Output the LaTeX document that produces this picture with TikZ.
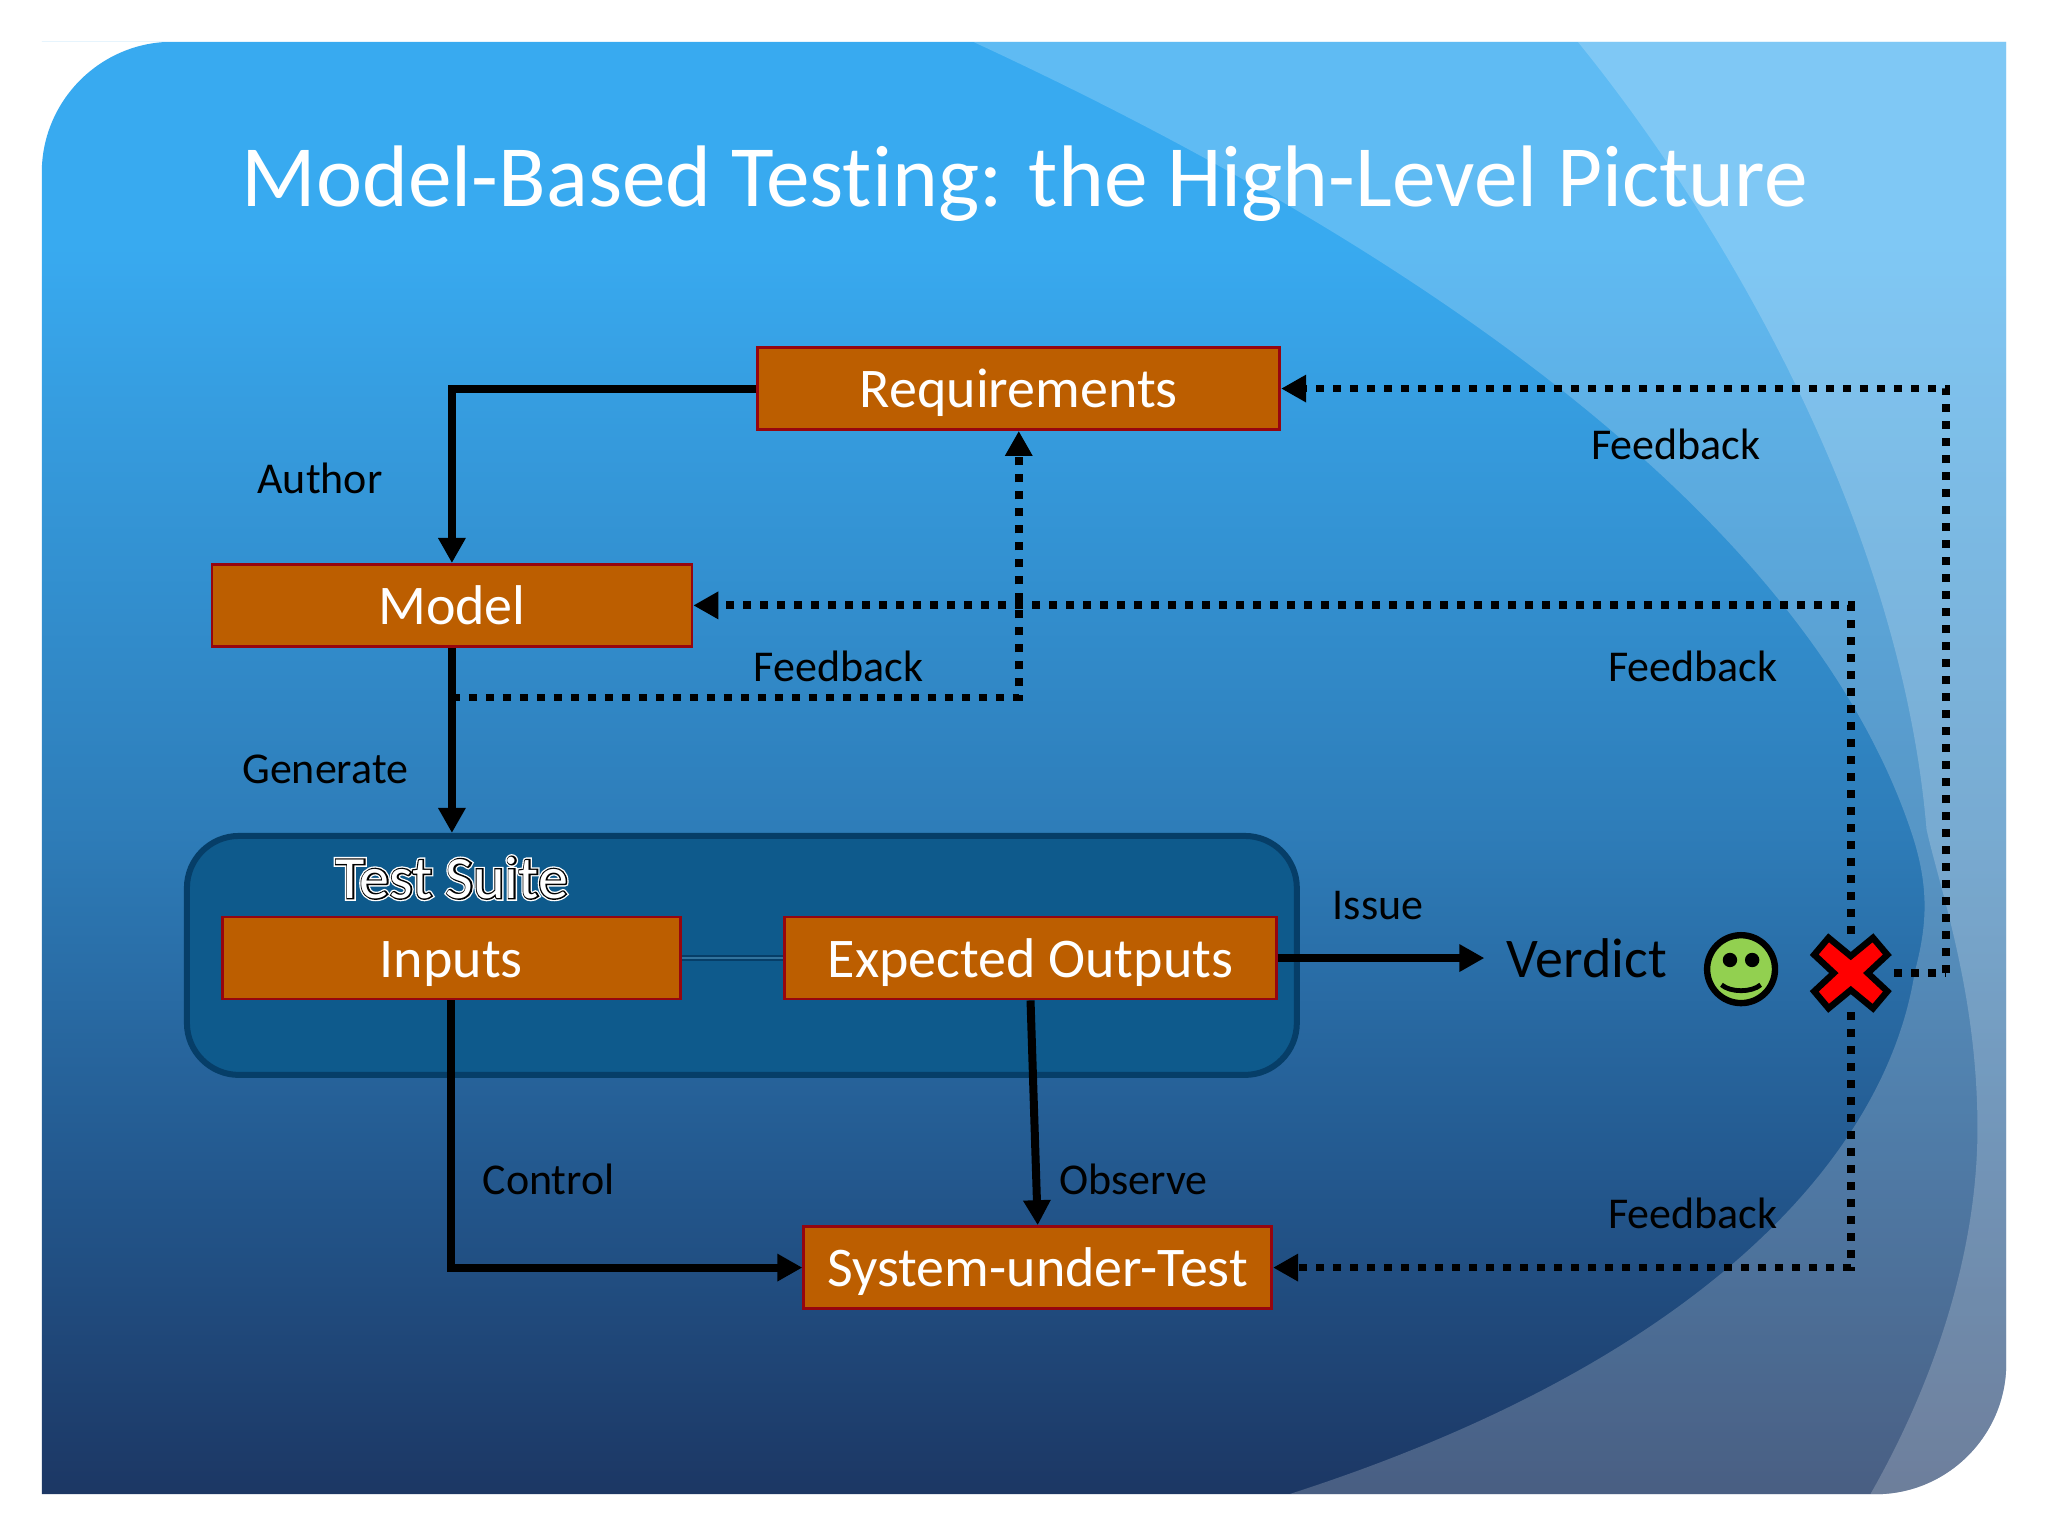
\documentclass[tikz,border=0pt]{standalone}
\usepackage{fontspec}
\setmainfont{Carlito}[Ligatures=NoCommon]
\newfontfamily\suiteouter{Carlito}[FakeBold=9]
\newfontfamily\suitemid{Carlito}[FakeBold=4.5]
\usetikzlibrary{arrows.meta}
\definecolor{boxfill}{RGB}{188,94,0}
\definecolor{boxline}{RGB}{150,5,15}
\definecolor{suitefill}{RGB}{14,90,140}
\definecolor{suiteline}{RGB}{6,62,104}
\definecolor{smiley}{RGB}{146,208,80}
\pgfdeclareverticalshading{slide}{100bp}{
	color(0bp)=(rgb,255:red,28;green,55;blue,100);
	color(25bp)=(rgb,255:red,28;green,55;blue,100);
	color(36bp)=(rgb,255:red,35;green,88;blue,142);
	color(48bp)=(rgb,255:red,46;green,125;blue,185);
	color(63bp)=(rgb,255:red,54;green,158;blue,225);
	color(68bp)=(rgb,255:red,56;green,170;blue,240);
	color(100bp)=(rgb,255:red,56;green,170;blue,240)}
\newcommand{\slideoutline}{(32,32) -- (1536,32) -- (1536,1044) .. controls (1536,1099) and (1491,1144) .. (1436,1144) -- (32,1144) -- (32,132) .. controls (32,77) and (77,32) .. (132,32) -- cycle}
\newcommand{\outlined}[1]{\rlap{\color{white}\suiteouter #1}\rlap{\color{black}\suitemid #1}\color{white}#1}
\tikzset{
	box/.style={draw=boxline,fill=boxfill,line width=1.4pt,text=white,font=\fontsize{28}{30}\selectfont,minimum height=41pt,inner sep=0pt,text height=19.3pt,text depth=0pt},
	lbl/.style={text=black,font=\fontsize{22}{24}\selectfont,inner sep=0pt},
	solid arrow/.style={line width=4pt,-{Triangle[length=12.5pt,width=13pt]}},
	fback/.style={line width=3.9pt,dash pattern=on 4pt off 4.5pt,-{Triangle[length=12.5pt,width=13pt]}},
	fback line/.style={line width=3.9pt,dash pattern=on 4pt off 4.5pt}
}

\begin{document}
\begin{tikzpicture}[x=0.6531pt,y=-0.6531pt]
	\path[fill=white] (0,0) rectangle (1568,1176);
	\shade[shading=slide] \slideoutline;
	\begin{scope}
		\clip \slideoutline;
		\fill[white,opacity=0.2] (745,32) .. controls (1000,150) and (1370,360) .. (1463,636) .. controls (1478,680) and (1475,710) .. (1466,744) .. controls (1445,880) and (1310,1040) .. (987,1144) -- (1600,1144) -- (1600,32) -- cycle;
		\fill[white,opacity=0.2] (1208,32) .. controls (1320,170) and (1455,400) .. (1475,635) .. controls (1485,680) and (1514,760) .. (1514,864) .. controls (1514,960) and (1480,1060) .. (1432,1144) -- (1600,1144) -- (1600,32) -- cycle;
	\end{scope}
	\node (title) at (784.5,141) [text=white,font=\fontsize{43.7}{48}\selectfont,inner sep=0pt] {Model-Based Testing: the High-Level Picture};
	\node (suite) at (568,731.5) [draw=suiteline,fill=suitefill,line width=3pt,rounded corners=26pt,minimum width=555pt,minimum height=119.5pt] {};
	\node (suitename) at (346,672) [font=\fontsize{30}{32}\selectfont,inner sep=0pt] {\outlined{Test Suite}};
	\node[box,minimum width=261pt] (reqs) at (780,297.5) {Requirements};
	\node[box,minimum width=240pt] (model) at (346,463.5) {Model};
	\node[box,minimum width=229pt] (inputs) at (345.5,733.5) {Inputs};
	\node[box,minimum width=246pt] (expected) at (789,733.5) {Expected Outputs};
	\node[box,minimum width=234pt] (sut) at (794.5,970.5) {System-under-Test};
	\node (verdict) at (1215,734) [text=black,font=\fontsize{28}{30}\selectfont,inner sep=11pt] {Verdict};
	\node (pass) at (1333,742) [minimum size=37pt,inner sep=0pt] {};
	\node (fail) at (1417,745) [minimum width=43pt,minimum height=39pt,inner sep=0pt] {};
	\coordinate (fbstart) at (346,534);
	\coordinate (fbturn) at (1490,745);
	% solid links
	\draw[suiteline,line width=1pt,double=suitefill!85!white,double distance=1.2pt] (inputs) -- (expected);
	\draw[solid arrow] (reqs.west) -| (model.north);
	\draw[solid arrow] (model.south) -- (model.south |- suite.north);
	\draw[solid arrow] (inputs.south) |- (sut.west);
	\draw[solid arrow] (expected.south) -- (sut.north);
	\draw[solid arrow] (expected.east) -- (expected.east -| verdict.west);
	% feedback loops
	\draw[fback] (fbstart) -| (reqs.south);
	\draw[fback] (fail.north) |- (model.east);
	\draw[fback] (fail.south) |- (sut.east);
	\draw[fback line] (fail.east) -- (fbturn);
	\draw[fback] (fbturn) |- (reqs.east);
	% labels
	\node[lbl] (author) at (245,366) {Author};
	\node[lbl] (generate) at (249,589) {Generate};
	\node[lbl] (fbone) at (642,510) {Feedback};
	\node[lbl] (fbtwo) at (1283,340) {Feedback};
	\node[lbl] (fbthree) at (1296,510) {Feedback};
	\node[lbl] (fbfour) at (1296,929) {Feedback};
	\node[lbl] (control) at (420,903) {Control};
	\node[lbl] (observe) at (868,903) {Observe};
	\node[lbl] (issue) at (1055,693) {Issue};
	% smiley and cross
	\begin{scope}[shift={(pass.center)}]
		\draw[fill=smiley,line width=3.2pt] (0,0) circle [radius=26];
		\foreach \s in {-1,1}
			\fill (\s*8.5,-7) circle [radius=5.5];
		\draw[line width=2.4pt] (-15,12) .. controls (-8,18) and (8,18) .. (15,12);
	\end{scope}
	\begin{scope}[shift={(fail.center)}]
		\draw[fill=red,line width=3.2pt,miter limit=4] (-17,-27) -- (0,-13) -- (17,-27) -- (28,-14) -- (13,0) -- (28,14) -- (17,27) -- (0,13) -- (-17,27) -- (-28,14) -- (-13,0) -- (-28,-14) -- cycle;
	\end{scope}
\end{tikzpicture}
\end{document}
